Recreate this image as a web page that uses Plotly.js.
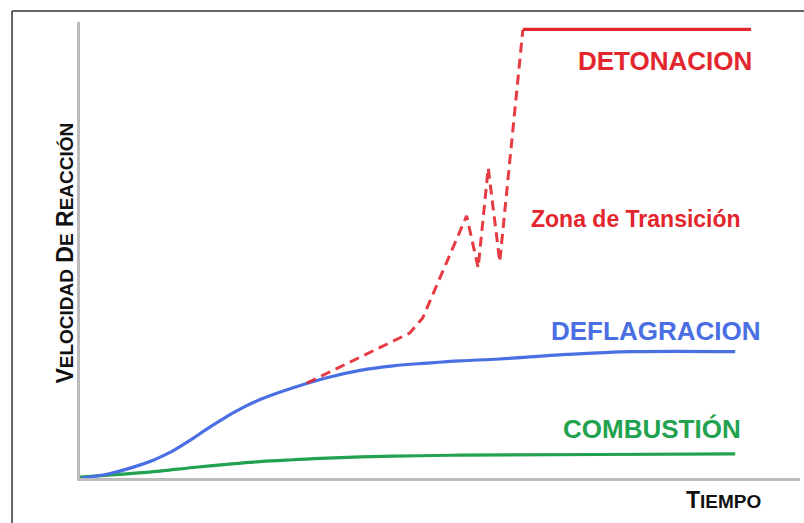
<!DOCTYPE html>
<html>
<head>
<meta charset="utf-8">
<script src="https://cdn.plot.ly/plotly-3.0.1.min.js"></script>
<style>
html,body{margin:0;padding:0;background:#fff;}
#chart{width:804px;height:523px;}
</style>
</head>
<body>
<div id="chart"></div>
<script>
// Tiempo (x) and Velocidad de reacción (y), arbitrary units 0-100
const combustionX = [0, 6.5, 11.1, 15.7, 20.4, 25, 29.6, 34.3, 43.5, 52.8, 72.2, 91];
const combustionY = [0.2, 0.9, 1.5, 2.3, 3.0, 3.6, 4.0, 4.35, 4.8, 5.0, 5.15, 5.3];

const deflagracionX = [0.2, 4.2, 8.8, 10.6, 12.5, 14.1, 15.7, 17.5, 19.3, 21.5, 25, 29.6, 34.3, 38.9, 43.5, 48.2, 52.8, 58.3, 67.6, 76.8, 91];
const deflagracionY = [0, 1.0, 3.1, 4.2, 5.6, 7.1, 8.7, 10.6, 12.4, 14.5, 17.2, 19.8, 22.0, 23.6, 24.6, 25.2, 25.7, 26.1, 27.1, 27.7, 27.7];

const transicionX = [31.5, 45.8, 47.6, 53.7, 55.3, 56.7, 58.3, 61.5];
const transicionY = [20.8, 31.8, 35.1, 57.5, 46.1, 68.0, 47.4, 98.2];

const detonacionX = [61.5, 93.2];
const detonacionY = [98.4, 98.4];

const labels = ["DETONACION", "Zona de Transición", "DEFLAGRACION", "COMBUSTIÓN"];
const labelX = [81.3, 77.2, 79.9, 79.4];
const labelY = [91.4, 56.8, 32.3, 10.8];

const red = '#e3262d', blue = '#4a6fe3', green = '#22a24f';

const traces = [
  {x: combustionX, y: combustionY, mode: 'lines', line: {color: green, width: 3.2, shape: 'spline', smoothing: 1.1}, hoverinfo: 'skip'},
  {x: deflagracionX, y: deflagracionY, mode: 'lines', line: {color: blue, width: 3.2, shape: 'spline', smoothing: 1.1}, hoverinfo: 'skip'},
  {x: transicionX, y: transicionY, mode: 'lines', line: {color: red, width: 3, dash: '10px,6px'}, opacity: 0.9, hoverinfo: 'skip'},
  {x: detonacionX, y: detonacionY, mode: 'lines', line: {color: red, width: 3.2}, hoverinfo: 'skip'}
];

const labelColors = [red, red, blue, green];
const labelSizes = [26, 23, 26, 26];
const annotations = labels.map((t, i) => ({
  x: labelX[i], y: labelY[i], xref: 'x', yref: 'y', text: '<b>' + t + '</b>', showarrow: false,
  xanchor: 'center', yanchor: 'middle',
  font: {family: 'Liberation Sans, Arial, sans-serif', size: labelSizes[i], color: labelColors[i]}
}));

const big = 23, small = 19;
function smallCaps(word) {
  return word.charAt(0) + '<span style="font-size:' + small + 'px">' + word.slice(1) + '</span>';
}
annotations.push({
  xref: 'paper', yref: 'paper', x: 0.894, y: -0.048, xanchor: 'center', yanchor: 'middle',
  text: '<b>' + smallCaps('TIEMPO') + '</b>', showarrow: false,
  font: {family: 'Liberation Sans, Arial, sans-serif', size: big, color: '#111'}
});
annotations.push({
  xref: 'paper', yref: 'paper', x: -0.021, y: 0.494, xanchor: 'center', yanchor: 'middle', textangle: -90,
  text: '<b>' + ['VELOCIDAD', 'DE', 'REACCIÓN'].map(smallCaps).join(' ') + '</b>', showarrow: false,
  font: {family: 'Liberation Sans, Arial, sans-serif', size: big, color: '#111'}
});

const layout = {
  width: 804, height: 523,
  margin: {l: 80, r: 4, t: 22, b: 45},
  paper_bgcolor: '#fff', plot_bgcolor: '#fff',
  showlegend: false,
  xaxis: {range: [0, 100], showgrid: false, zeroline: false, showticklabels: false, ticks: '',
          showline: true, linecolor: '#bcbcbc', linewidth: 3, fixedrange: true},
  yaxis: {range: [0, 100], showgrid: false, zeroline: false, showticklabels: false, ticks: '',
          showline: true, linecolor: '#bcbcbc', linewidth: 3, fixedrange: true},
  annotations: annotations,
  shapes: [
    {type: 'line', xref: 'paper', yref: 'paper', x0: -0.0944, x1: -0.0944, y0: 1.0241, y1: -0.2, line: {color: '#333', width: 1.5}},
    {type: 'line', xref: 'paper', yref: 'paper', x0: -0.0944, x1: 1.1, y0: 1.0241, y1: 1.0241, line: {color: '#333', width: 1.5}}
  ]
};

Plotly.newPlot('chart', traces, layout, {displayModeBar: false, staticPlot: true});
</script>
</body>
</html>
